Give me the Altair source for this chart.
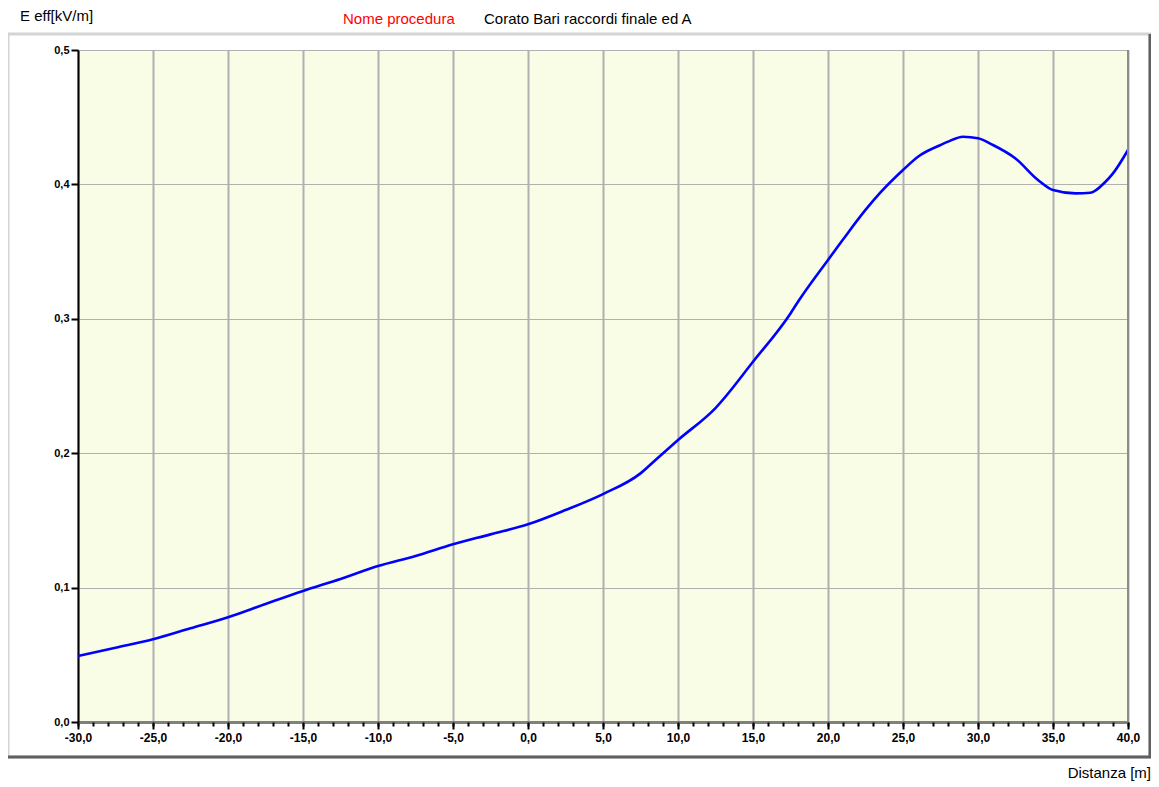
import altair as alt
import pandas as pd

# ---- data ----
dist = [-30, -27.5, -25, -22.5, -20, -17.5, -15, -12.5, -10, -7.5, -5, -2.5,
        0, 2.5, 5, 7.5, 8.5, 10, 12.5, 15, 17.5, 18, 20, 21, 22.5, 23.5, 25, 26,
        27.5, 28, 29, 30, 31, 32.5, 34, 35, 36.5, 37.5, 38.5, 39, 40]
e_eff = [0.0491, 0.0553, 0.0615, 0.0697, 0.0779, 0.0878, 0.0975, 0.1064, 0.1160,
         0.1235, 0.1322, 0.1396, 0.1471, 0.1577, 0.1696, 0.1850, 0.1950, 0.2098,
         0.2336, 0.2680, 0.3040, 0.3127, 0.3438, 0.3590, 0.3810, 0.3940, 0.4107,
         0.4206, 0.4293, 0.4318, 0.4355, 0.4343, 0.4293, 0.4193, 0.4033, 0.3958,
         0.3933, 0.3938, 0.4020, 0.4082, 0.4256]
x_ticks = [-30, -25, -20, -15, -10, -5, 0, 5, 10, 15, 20, 25, 30, 35, 40]
x_minor = list(range(-30, 41))
y_ticks = [0.0, 0.1, 0.2, 0.3, 0.4, 0.5]

y_title = "E eff[kV/m]"
x_title = "Distanza [m]"
title_red = "Nome procedura"
title_black = "Corato Bari raccordi finale ed A"

df = pd.DataFrame({"dist": dist, "e": e_eff})
one = pd.DataFrame({"k": [0]})

W, H = 1050, 672
FONT = "Liberation Sans"
label_expr = "replace(replace(format(datum.value, '.1f'), '.', ','), '\u2212', '-')"

x_scale = alt.Scale(domain=[-30, 40], nice=False, zero=False)
y_scale = alt.Scale(domain=[0, 0.5], nice=False, zero=False)

line = alt.Chart(df).mark_line(color="#0000FF", strokeWidth=2.6, interpolate="monotone").encode(
    x=alt.X("dist:Q", scale=x_scale,
            axis=alt.Axis(values=x_ticks, labelExpr=label_expr, title=None, orient="bottom",
                          grid=True, gridColor="#B0B0B0", gridWidth=2,
                          domainColor="#808080", domainWidth=3,
                          tickColor="#000000", tickSize=7, tickWidth=2,
                          labelFont=FONT, labelFontSize=12, labelFontWeight="bold",
                          labelColor="#000000", labelPadding=3, labelFlush=False,
                          labelOverlap=False)),
    y=alt.Y("e:Q", scale=y_scale,
            axis=alt.Axis(values=y_ticks, labelExpr=label_expr, title=None,
                          grid=True, gridColor="#B0B0B0", gridWidth=1,
                          domainColor="#000000", domainWidth=2,
                          tickColor="#000000", tickSize=7, tickWidth=2,
                          labelFont=FONT, labelFontSize=11, labelFontWeight="bold",
                          labelColor="#000000", labelPadding=2, labelFlush=False,
                          labelOverlap=False)),
)

minor = alt.Chart(df).mark_point(opacity=0).encode(
    x=alt.X("dist:Q", scale=x_scale,
            axis=alt.Axis(values=x_minor, labels=False, domain=False, grid=False,
                          ticks=True, tickSize=4, tickWidth=2, tickColor="#000000",
                          title=None, orient="bottom")),
    y=alt.Y("e:Q", scale=y_scale),
)

frame = alt.Chart(one).mark_rect(fillOpacity=0, stroke="#D4D4D4", strokeWidth=3).encode(
    x=alt.value(-70), x2=alt.value(1072), y=alt.value(-16), y2=alt.value(707))
frame_r = alt.Chart(one).mark_rule(color="#606060", strokeWidth=3).encode(
    x=alt.value(1072), y=alt.value(-16), y2=alt.value(708))
frame_b = alt.Chart(one).mark_rule(color="#606060", strokeWidth=3).encode(
    x=alt.value(-70), x2=alt.value(1073), y=alt.value(707))
plot_r = alt.Chart(one).mark_rule(color="#8C8C8C", strokeWidth=2).encode(
    x=alt.value(W), y=alt.value(0), y2=alt.value(H))

t_y = alt.Chart(one).mark_text(text=y_title, align="left", baseline="middle",
                               font=FONT, fontSize=15, color="#000000").encode(
    x=alt.value(-58), y=alt.value(-34))
t_red = alt.Chart(one).mark_text(text=title_red, align="left", baseline="middle",
                                 font=FONT, fontSize=15, color="#FF0000").encode(
    x=alt.value(265), y=alt.value(-31))
t_blk = alt.Chart(one).mark_text(text=title_black, align="left", baseline="middle",
                                 font=FONT, fontSize=15, color="#000000").encode(
    x=alt.value(406), y=alt.value(-31))
t_x = alt.Chart(one).mark_text(text=x_title, align="right", baseline="middle",
                               font=FONT, fontSize=15, color="#000000").encode(
    x=alt.value(1073), y=alt.value(723))

chart = alt.layer(
    frame, frame_r, frame_b, line, minor, plot_r, t_y, t_red, t_blk, t_x
).resolve_axis(x="independent").properties(
    width=W, height=H,
    padding={"left": 70, "top": 42, "right": 23, "bottom": 62},
    autosize=alt.AutoSizeParams(type="none"),
    background="#FFFFFF",
).configure_view(fill="#FAFDE6", stroke="transparent")

chart.save("out.html", embed_options={"renderer": "svg", "actions": False})
